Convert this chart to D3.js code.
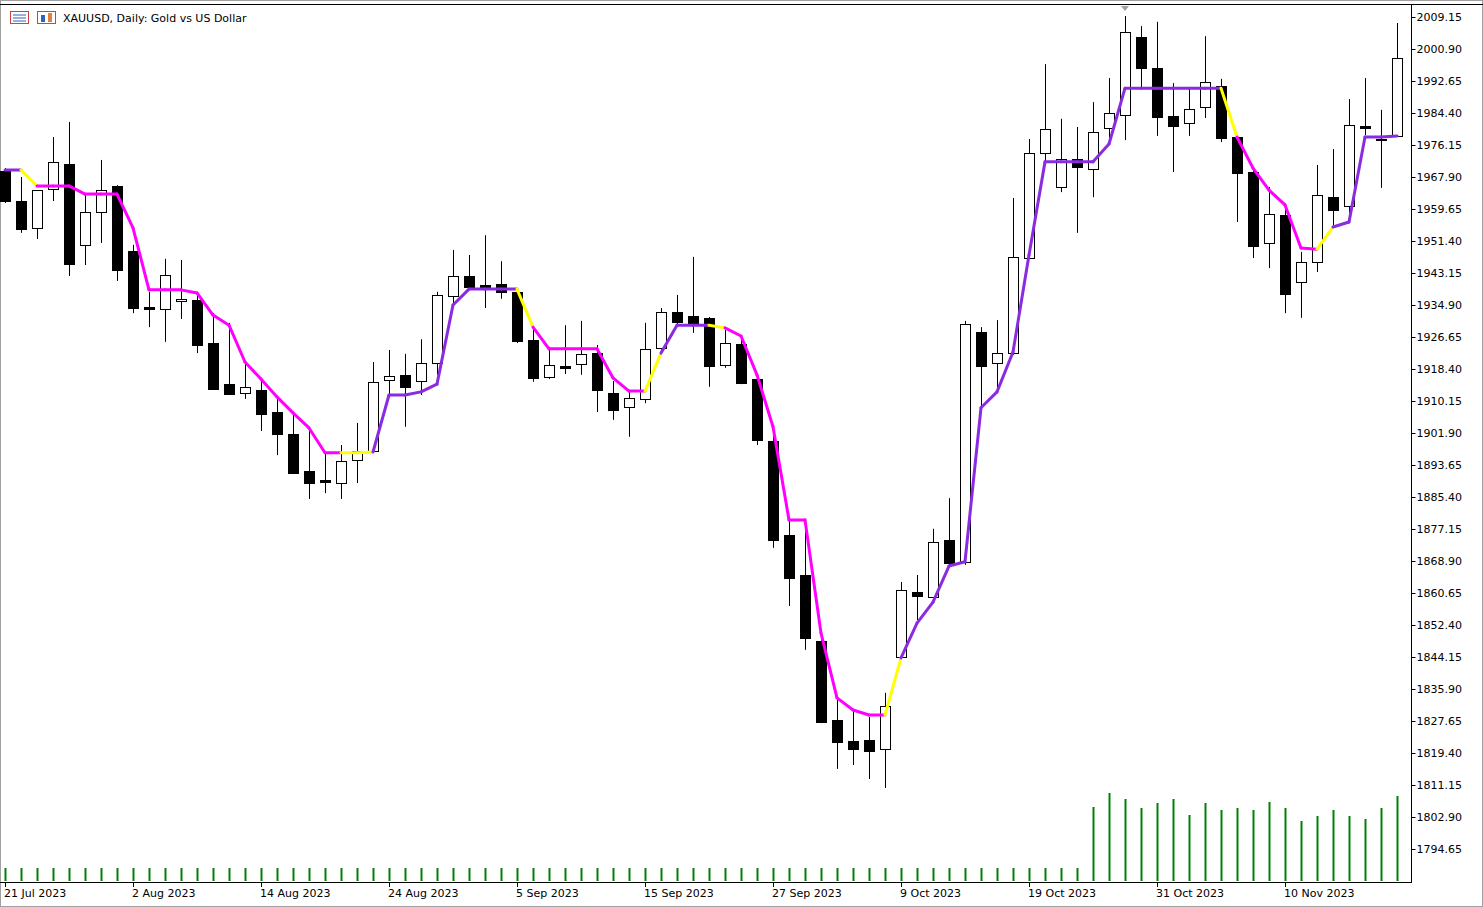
<!DOCTYPE html>
<html><head><meta charset="utf-8">
<script src="https://cdn.jsdelivr.net/npm/d3@7"></script>
<style>body{margin:0;background:#fff}svg{display:block}</style>
</head><body>
<script>
const dates=["21 Jul 2023","24 Jul","25 Jul","26 Jul","27 Jul","28 Jul","31 Jul","1 Aug","2 Aug 2023","3 Aug","4 Aug","7 Aug","8 Aug","9 Aug","10 Aug","11 Aug","14 Aug 2023","15 Aug","16 Aug","17 Aug","18 Aug","21 Aug","22 Aug","23 Aug","24 Aug 2023","25 Aug","28 Aug","29 Aug","30 Aug","31 Aug","1 Sep","4 Sep","5 Sep 2023","6 Sep","7 Sep","8 Sep","11 Sep","12 Sep","13 Sep","14 Sep","15 Sep 2023","18 Sep","19 Sep","20 Sep","21 Sep","22 Sep","25 Sep","26 Sep","27 Sep 2023","28 Sep","29 Sep","2 Oct","3 Oct","4 Oct","5 Oct","6 Oct","9 Oct 2023","10 Oct","11 Oct","12 Oct","13 Oct","16 Oct","17 Oct","18 Oct","19 Oct 2023","20 Oct","23 Oct","24 Oct","25 Oct","26 Oct","27 Oct","30 Oct","31 Oct 2023","1 Nov","2 Nov","3 Nov","6 Nov","7 Nov","8 Nov","9 Nov","10 Nov 2023","13 Nov","14 Nov","15 Nov","16 Nov","17 Nov","20 Nov","21 Nov"];
const labelEvery=8;
const opens=[1969.4,1961.7,1954.8,1964.8,1971.3,1950.4,1958.9,1965.6,1948.8,1934.4,1933.9,1935.9,1936.2,1925.1,1914.5,1912.2,1913.0,1907.3,1901.6,1892.1,1889.8,1889.0,1894.9,1897.3,1915.6,1916.9,1915.3,1920.0,1937.2,1942.4,1940.1,1940.3,1938.3,1925.9,1916.3,1919.2,1919.7,1922.5,1912.2,1908.6,1910.7,1923.8,1933.1,1932.1,1931.6,1919.4,1924.9,1915.8,1899.8,1875.6,1865.3,1848.3,1827.9,1822.5,1822.8,1820.4,1844.2,1860.9,1859.6,1874.3,1868.7,1927.9,1920.0,1922.5,1947.0,1974.1,1965.3,1972.5,1970.0,1980.5,1983.9,2004.0,1996.0,1983.6,1981.8,1986.0,1991.4,1978.2,1969.2,1950.9,1958.1,1940.8,1946.0,1962.7,1960.4,1981.1,1977.7,1978.5];
const highs=[1970.2,1967.9,1964.5,1978.2,1982.1,1963.3,1972.3,1965.8,1950.4,1938.3,1946.8,1946.5,1938.3,1932.8,1930.3,1920.2,1915.6,1911.2,1907.1,1902.7,1896.8,1898.8,1904.5,1920.2,1923.3,1922.3,1926.1,1938.3,1949.1,1947.8,1952.9,1946.2,1939.0,1929.2,1924.1,1929.7,1930.8,1924.6,1915.3,1913.0,1930.3,1934.1,1937.5,1947.3,1931.8,1928.5,1925.9,1916.9,1901.4,1879.5,1879.5,1848.5,1833.1,1830.5,1828.7,1834.9,1863.5,1865.3,1877.2,1885.1,1930.8,1929.2,1931.0,1962.5,1977.7,1997.0,1982.9,1980.8,1987.2,1993.4,2009.4,2006.8,2007.9,1992.1,1990.6,2004.2,1993.2,1978.7,1970.5,1965.3,1960.7,1948.6,1971.0,1975.1,1988.0,1993.4,1985.2,2007.6];
const lows=[1961.2,1953.5,1951.9,1961.7,1942.4,1945.2,1950.9,1941.1,1932.8,1929.2,1925.4,1931.3,1922.5,1913.0,1911.7,1910.7,1902.4,1896.2,1891.3,1884.9,1886.4,1884.9,1889.0,1896.9,1911.7,1903.5,1911.7,1916.9,1935.4,1938.8,1934.1,1936.5,1925.1,1915.1,1915.8,1917.1,1916.9,1907.3,1905.3,1900.9,1909.6,1922.8,1929.7,1927.7,1913.8,1918.7,1914.5,1898.8,1872.3,1857.3,1846.0,1827.1,1815.3,1816.3,1812.7,1810.4,1843.4,1853.7,1858.9,1867.9,1867.9,1907.8,1912.5,1922.0,1946.8,1971.8,1964.0,1953.5,1962.7,1976.7,1977.4,1990.8,1978.5,1969.2,1978.5,1983.1,1976.9,1956.3,1947.0,1944.4,1932.8,1931.6,1943.4,1955.0,1958.6,1978.7,1965.1,1978.3];
const closes=[1961.7,1954.5,1964.5,1971.8,1945.5,1958.9,1964.5,1943.9,1934.1,1933.9,1942.6,1936.5,1924.6,1913.3,1912.0,1913.8,1906.8,1901.6,1891.6,1889.0,1889.3,1894.7,1897.3,1915.1,1916.6,1913.8,1920.0,1937.5,1942.4,1939.5,1939.5,1938.3,1925.6,1916.1,1919.4,1918.7,1922.3,1913.0,1907.8,1910.9,1923.6,1933.1,1930.5,1930.0,1919.2,1925.1,1914.8,1900.1,1874.3,1864.5,1849.1,1827.4,1822.2,1820.4,1819.9,1831.5,1861.4,1859.9,1873.8,1868.4,1930.0,1919.2,1922.5,1947.3,1974.1,1980.3,1972.5,1970.5,1979.5,1984.4,2005.3,1996.0,1983.4,1981.1,1985.4,1992.4,1978.0,1968.9,1950.1,1958.4,1937.7,1946.0,1963.3,1959.4,1981.3,1980.5,1977.4,1998.6];
const lineVals=[1969.7,1969.7,1965.6,1965.6,1965.6,1963.5,1963.5,1963.5,1954.8,1938.8,1938.8,1938.8,1938.0,1932.3,1929.7,1920.2,1915.8,1911.2,1907.1,1903.2,1896.8,1896.8,1896.8,1897.0,1911.7,1911.7,1912.5,1914.5,1934.9,1939.0,1939.0,1939.0,1939.0,1929.2,1923.6,1923.6,1923.6,1923.6,1916.1,1912.7,1912.7,1922.5,1929.7,1929.7,1929.7,1929.0,1926.9,1916.9,1903.5,1879.5,1879.5,1850.3,1833.6,1830.5,1829.2,1829.2,1843.9,1852.9,1858.3,1867.6,1868.7,1908.4,1912.5,1922.8,1947.8,1971.8,1971.8,1971.8,1971.8,1976.4,1990.8,1990.8,1990.8,1990.8,1990.8,1990.8,1990.8,1978.2,1970.2,1964.5,1960.7,1949.6,1949.3,1955.0,1956.3,1978.2,1978.2,1978.5];
const lineRuns=[["P",1],["Y",1],["M",19],["Y",2],["P",9],["Y",1],["M",7],["Y",1],["P",3],["Y",1],["M",10],["Y",1],["P",20],["Y",1],["M",5],["Y",1],["P",4]];
const volumes=Array(68).fill(13).concat([74,88,82,73,78,82,66,78,71,73,71,79,73,60,65,71,65,62,73,85]);
const priceTicks=d3.range(0,27).map(i=>+(2009.15-8.25*i).toFixed(2));
const colorMap={P:"#8a2be2",Y:"#ffff00",M:"#ff00ff"};

const W=1483,H=907,R=1411,B=882;
const svg=d3.select("body").append("svg").attr("width",W).attr("height",H).style("font-family","Tahoma, 'DejaVu Sans', sans-serif");
svg.append("rect").attr("width",W).attr("height",H).attr("fill","#fff");
svg.append("rect").attr("x",0.5).attr("y",0.5).attr("width",W-1).attr("height",H-1).attr("fill","none").attr("stroke","#a0a0a0");
svg.append("line").attr("x1",0).attr("x2",W).attr("y1",4.5).attr("y2",4.5).attr("stroke","#000");

const x=d3.scaleLinear().domain([0,87]).range([5,1397]);
const y=d3.scaleLinear().domain([1794.65,2009.15]).range([849,17]);
const yv=d3.scaleLinear().domain([0,100]).range([881,781]);

const g=svg.append("g");
// volumes
g.selectAll(".v").data(volumes).join("line").attr("x1",(d,i)=>Math.round(x(i))+0.5).attr("x2",(d,i)=>Math.round(x(i))+0.5)
 .attr("y1",yv(0)).attr("y2",d=>yv(d)).attr("stroke","#008000").attr("stroke-width",2);
// candles
const idx=d3.range(opens.length);
g.selectAll(".w").data(idx).join("line").attr("x1",i=>Math.round(x(i))+0.5).attr("x2",i=>Math.round(x(i))+0.5)
 .attr("y1",i=>y(highs[i])).attr("y2",i=>y(lows[i])).attr("stroke","#000");
g.selectAll(".b").data(idx).join("rect")
 .attr("x",i=>Math.round(x(i))-4.5).attr("width",10)
 .attr("y",i=>Math.round(y(Math.max(opens[i],closes[i])))+0.5)
 .attr("height",i=>Math.max(1,Math.round(Math.abs(y(opens[i])-y(closes[i])))))
 .attr("fill",i=>closes[i]>=opens[i]?"#fff":"#000").attr("stroke","#000");
// line
const segColors=[];lineRuns.forEach(([c,n])=>{for(let k=0;k<n;k++)segColors.push(c);});
g.selectAll(".s").data(segColors).join("line")
 .attr("x1",(c,i)=>x(i)).attr("x2",(c,i)=>x(i+1)).attr("y1",(c,i)=>y(lineVals[i])).attr("y2",(c,i)=>y(lineVals[i+1]))
 .attr("stroke",c=>colorMap[c]).attr("stroke-width",3).attr("stroke-linecap","round");

// axes
svg.append("line").attr("x1",R+0.5).attr("x2",R+0.5).attr("y1",5).attr("y2",B).attr("stroke","#000");
svg.append("line").attr("x1",0).attr("x2",R+1).attr("y1",B+0.5).attr("y2",B+0.5).attr("stroke","#000");
const ya=svg.append("g").attr("transform",`translate(${R+0.5},0)`).call(d3.axisRight(y).tickValues(priceTicks).tickSize(4).tickFormat(d3.format(".2f")));
ya.select(".domain").remove();
ya.selectAll("text").attr("font-size",11).attr("fill","#000").attr("x",5).attr("font-family","Tahoma, 'DejaVu Sans', sans-serif");
ya.selectAll("line").attr("stroke","#000");
const xt=idx.filter(i=>i%labelEvery===0);
svg.selectAll(".xt").data(xt).join("line").attr("x1",i=>Math.round(x(i))+0.5).attr("x2",i=>Math.round(x(i))+0.5).attr("y1",B).attr("y2",B+5).attr("stroke","#000");
svg.selectAll(".xl").data(xt).join("text").attr("x",i=>Math.round(x(i))-1).attr("y",B+15).attr("font-size",11).text(i=>dates[i]);

// header
const hdr=svg.append("g");
hdr.append("rect").attr("x",10.5).attr("y",11.5).attr("width",18).attr("height",12).attr("fill","#fff").attr("stroke","#d04040");
[15,18,21].forEach(yy=>hdr.append("line").attr("x1",13).attr("x2",26).attr("y1",yy).attr("y2",yy).attr("stroke","#3060c0"));
hdr.append("rect").attr("x",37.5).attr("y",11.5).attr("width",18).attr("height",12).attr("fill","#fff").attr("stroke","#d04040");
hdr.append("rect").attr("x",41).attr("y",15).attr("width",4).attr("height",7).attr("fill","#3060c0");
hdr.append("rect").attr("x",48).attr("y",13).attr("width",4).attr("height",9).attr("fill","#e08040");
hdr.append("text").attr("x",63).attr("y",22).attr("font-size",11).text("XAUUSD, Daily:  Gold vs US Dollar");
svg.append("path").attr("d","M1121,6 L1129,6 L1125,11 Z").attr("fill","#a0a0a0");
</script>
</body></html>
